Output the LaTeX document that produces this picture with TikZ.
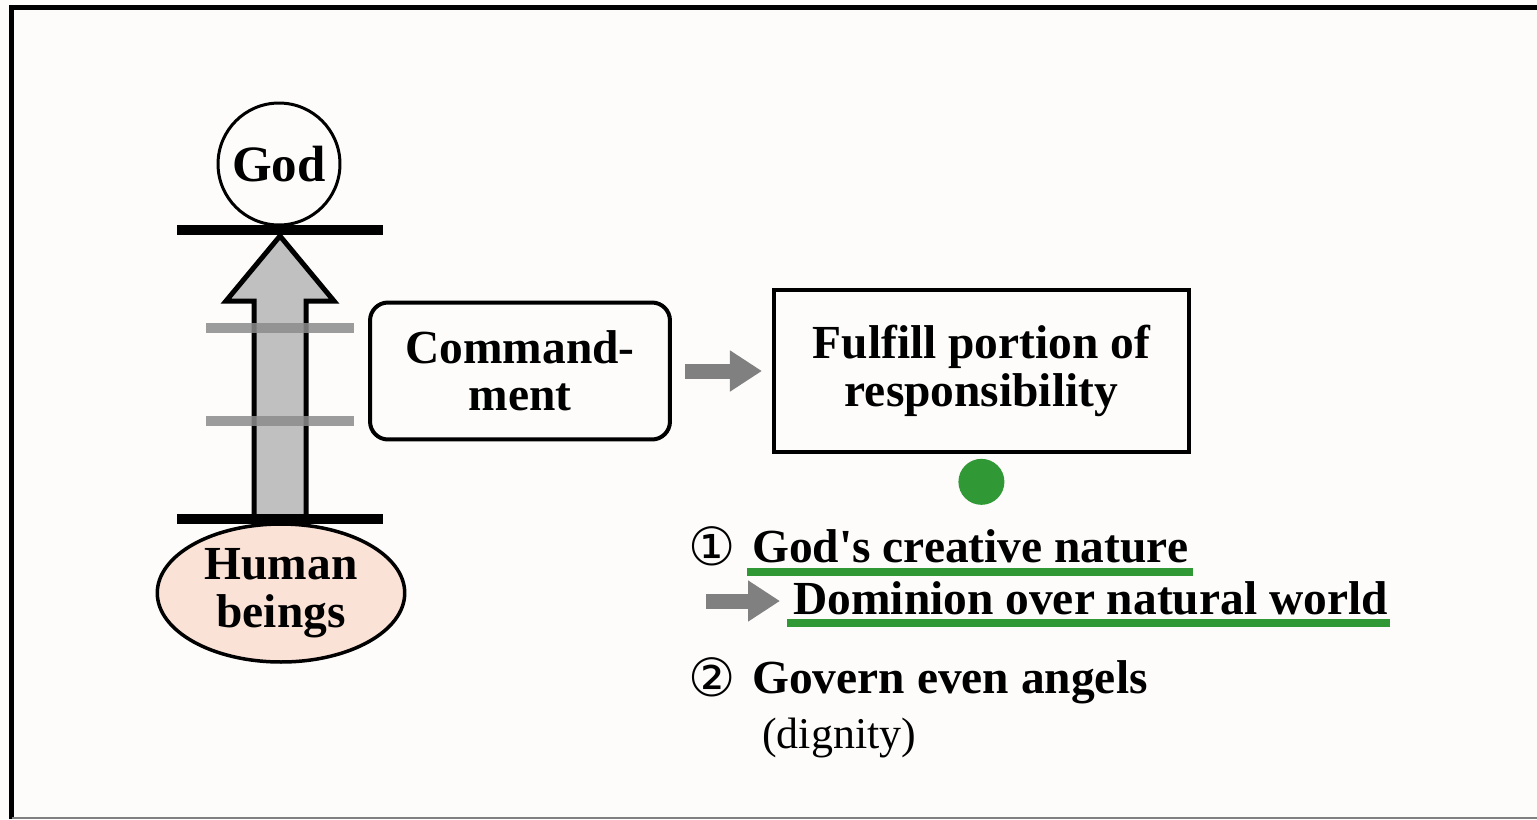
\documentclass[tikz,border=0pt]{standalone}
\usepackage{fontspec}
\setmainfont{Liberation Serif}
\newfontfamily\symfont{DejaVu Sans}
\usetikzlibrary{shapes, arrows.meta, positioning, calc}

\definecolor{peach}{RGB}{251,226,214}
\definecolor{leaf}{RGB}{48,152,52}
\definecolor{shaftgray}{RGB}{192,192,192}
\definecolor{runggray}{RGB}{140,140,140}
\definecolor{arrgray}{RGB}{128,128,128}
\definecolor{paper}{RGB}{253,252,251}

\begin{document}
\begin{tikzpicture}[x=0.02cm, y=-0.02cm,
        lbl/.style={font=\fontsize{27}{27}\selectfont\bfseries, align=center},
        cmdbox/.style={draw, rounded corners=0.36cm, line width=0.08cm, minimum width=6cm, minimum height=2.74cm, lbl},
        respbox/.style={draw, line width=0.08cm, minimum width=8.3cm, minimum height=3.26cm, lbl},
        item/.style={anchor=base west, inner sep=0pt, font=\fontsize{27}{27}\selectfont\bfseries},
        num/.style={anchor=base west, inner sep=0pt, font=\symfont\fontsize{30}{30}\selectfont},
        bar/.style={line width=0.2cm},
        rung/.style={runggray, line width=0.2cm, opacity=0.85},
        bigarr/.style={draw, fill=shaftgray, line width=0.1cm, line join=miter},
        grayarr/.style={arrgray, line width=0.3cm, -{Triangle[length=0.64cm, width=0.78cm]}},
        uline/.style={leaf, line width=0.16cm}
    ]
        \useasboundingbox (0,0) rectangle (1537,819);
        \fill[paper] (0,0) rectangle (1537,819);
        \draw[line width=0.1cm, line join=miter] (11.5,819) -- (11.5,7.5) -- (1537,7.5);
        \draw[gray, line width=0.05cm] (12,818) -- (1537,818);

        % God above, human beings below
        \coordinate (tip) at (280,236);
        \coordinate (topbar) at (280,230);
        \coordinate (botbar) at (280,519);
        \draw[bigarr] ($(botbar)+(-26,0)$) -- ($(tip)+(-26,65)$) -- ($(tip)+(-54,65)$) -- (tip)
            -- ($(tip)+(54,65)$) -- ($(tip)+(26,65)$) -- ($(botbar)+(26,0)$);
        \draw[bar] ($(topbar)+(-103,0)$) -- ($(topbar)+(103,0)$);
        \draw[bar] ($(botbar)+(-103,0)$) -- ($(botbar)+(103,0)$);
        \draw[rung] (206,328) -- (354,328);
        \draw[rung] (206,421) -- (354,421);
        \node[circle, draw, line width=0.06cm, minimum size=2.44cm, inner sep=0pt,
            font=\fontsize{29}{29}\selectfont\bfseries] (god) at (279,164) {God};
        \node[ellipse, draw, fill=peach, line width=0.07cm, minimum width=4.95cm, minimum height=2.76cm,
            inner sep=0pt, lbl] (human) at (281,593) {Human\\beings};

        % commandment and responsibility
        \node[cmdbox] (cmd) at (520,371) {Command-\\ment};
        \node[respbox, right=2cm of cmd] (resp) {Fulfill portion of\\responsibility};
        \draw[grayarr, shorten <=0.26cm, shorten >=0.2cm] (cmd) -- (resp);
        \node[circle, fill=leaf, minimum size=0.92cm, inner sep=0pt, below=0.08cm of resp] (dot) {};

        % two points
        \node[num] (one) at (688,565) {①};
        \node[item] (nature) at (752,562) {God\textquotesingle s creative nature};
        \draw[uline] ($(nature.base west)+(-5,10)$) -- ($(nature.base east)+(5,10)$);
        \coordinate (arrstart) at (706,601);
        \node[item] (dominion) at (793,614) {Dominion over natural world};
        \draw[grayarr, shorten >=0.26cm] (arrstart) -- (arrstart -| dominion.west);
        \draw[uline] ($(dominion.base west)+(-6,9)$) -- ($(dominion.base east)+(2,9)$);
        \node[num] (two) at (688,696) {②};
        \node[item] (angels) at (752,693) {Govern even angels};
        \node[anchor=base west, inner sep=0pt, font=\fontsize{25}{25}\selectfont] (dignity) at (762,748) {(dignity)};
    \end{tikzpicture}
\end{document}
